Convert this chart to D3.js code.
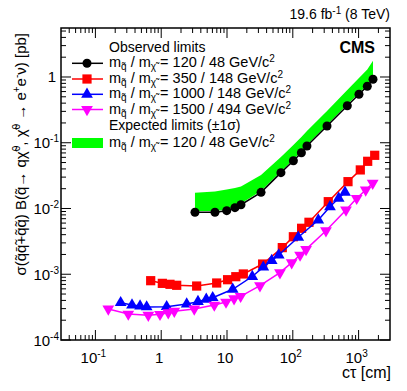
<!DOCTYPE html>
<meta charset="utf-8">
<style>
body { margin: 0; background: #fff; }
text { font-family: "Liberation Sans", Arial, sans-serif; fill: #000; }
.line { fill: none; stroke-width: 1.5px; }
</style>
<body>
<script src="https://d3js.org/d3.v7.min.js"></script>
<script>

// ---- data ----
var blackX = [3.26, 6.56, 9.9, 13.2, 16.3, 32.9, 66, 102, 135, 164, 331, 673, 1013, 1355, 1655];
var blackY = [0.00875, 0.00875, 0.00927, 0.0103, 0.0114, 0.0176, 0.0351, 0.0533, 0.0706, 0.0893, 0.180, 0.366, 0.546, 0.723, 0.922];

var expLow = [0.00916, 0.00916, 0.00966, 0.0107, 0.0119, 0.0185, 0.0366, 0.0556, 0.0736, 0.0925, 0.186, 0.382, 0.571, 0.755, 0.966];
var expHigh = [0.0174, 0.0182, 0.0195, 0.0205, 0.0216, 0.0323, 0.0607, 0.0925, 0.122, 0.151, 0.304, 0.634, 0.966, 1.30, 1.77];

var redX = [0.692, 1.04, 1.36, 1.72, 3.46, 6.97, 10.2, 13.6, 17.7, 34.8, 69.2, 102, 136, 176, 346, 690, 1061, 1374, 1757];
var redY = [7.98e-4, 7.27e-4, 7.03e-4, 6.79e-4, 6.62e-4, 7.36e-4, 8.26e-4, 9.18e-4, 1.01e-3, 1.43e-3, 2.54e-3, 3.72e-3, 5.0e-3, 6.17e-3, 0.0127, 0.0256, 0.0386, 0.0522, 0.0644];

var blueX = [0.242, 0.360, 0.477, 0.601, 1.21, 2.44, 3.62, 4.84, 6.06, 12.2, 24.2, 35.6, 47.8, 61.1, 121, 244, 367, 498, 621];
var blueY = [3.69e-4, 3.40e-4, 3.29e-4, 3.18e-4, 3.21e-4, 3.53e-4, 3.83e-4, 4.16e-4, 4.40e-4, 5.90e-4, 9.24e-4, 1.28e-3, 1.61e-3, 1.96e-3, 3.65e-3, 6.68e-3, 0.0106, 0.0143, 0.0176];

var magX = [0.157, 0.316, 0.637, 0.959, 1.28, 1.58, 3.18, 6.41, 9.66, 12.8, 16.1, 31.7, 63.8, 96.2, 129, 159, 319, 643, 935, 1282, 1637];
var magY = [2.96e-4, 2.48e-4, 2.38e-4, 2.46e-4, 2.60e-4, 2.74e-4, 2.96e-4, 3.40e-4, 3.78e-4, 4.25e-4, 4.62e-4, 6.70e-4, 1.06e-3, 1.50e-3, 1.96e-3, 2.39e-3, 4.59e-3, 9.48e-3, 0.0143, 0.0191, 0.0242];

var xTicks = [0.1, 1, 10, 100, 1000];
var xTickLabels = [["10", "-1"], ["1", ""], ["10", ""], ["10", "2"], ["10", "3"]];
var yTicks = [1e-4, 1e-3, 1e-2, 1e-1, 1];
var yTickLabels = [["10", "-4"], ["10", "-3"], ["10", "-2"], ["10", "-1"], ["1", ""]];

var legendMasses = ["120 / 48", "350 / 148", "1000 / 148", "1500 / 494"];

// ---- frame ----
var W = 407, H = 391;
var fL = 61, fR = 390, fT = 28, fB = 340;

var x = d3.scaleLog().domain([0.03, 3000]).range([fL, fR]);
var y = d3.scaleLog().domain([1e-4, 5.56]).range([fB, fT]);

var svg = d3.select("body").append("svg")
    .attr("width", W)
    .attr("height", H);

// helper to zip two arrays into points
function pts(xs, ys) {
  return xs.map(function(v, i) { return {x: v, y: ys[i]}; });
}

// expected band
var band = blackX.map(function(v, i) { return {x: v, lo: expLow[i], hi: expHigh[i]}; });
svg.append("path")
    .datum(band)
    .attr("fill", "#00ff00")
    .attr("d", d3.area()
        .x(function(d) { return x(d.x); })
        .y0(function(d) { return y(d.lo); })
        .y1(function(d) { return y(d.hi); }));

var series = [
  {xs: redX, ys: redY, color: "#ff0000", sym: d3.symbolSquare, size: 85, rot: 0},
  {xs: blueX, ys: blueY, color: "#0000ff", sym: d3.symbolTriangle, size: 60, rot: 0},
  {xs: magX, ys: magY, color: "#ff00ff", sym: d3.symbolTriangle, size: 60, rot: 180},
  {xs: blackX, ys: blackY, color: "#000000", sym: d3.symbolCircle, size: 64, rot: 0}
];

var line = d3.line()
    .x(function(d) { return x(d.x); })
    .y(function(d) { return y(d.y); });

series.forEach(function(s) {
  var data = pts(s.xs, s.ys);
  svg.append("path")
      .datum(data)
      .attr("class", "line")
      .attr("stroke", s.color)
      .attr("d", line);
  svg.selectAll(null)
      .data(data)
    .enter().append("path")
      .attr("fill", s.color)
      .attr("transform", function(d) {
        return "translate(" + x(d.x) + "," + y(d.y) + ") rotate(" + s.rot + ")";
      })
      .attr("d", d3.symbol().type(s.sym).size(s.size));
});

// ---- axes (ROOT style, ticks inside on all sides) ----
var minorX = [], minorY = [];
for (var e = -2; e <= 3; e++) {
  for (var m = 2; m <= 9; m++) {
    var v = m * Math.pow(10, e);
    if (v > 0.03 && v < 3000) minorX.push(v);
  }
}
for (var e = -4; e <= 0; e++) {
  for (var m = 2; m <= 9; m++) {
    var v = m * Math.pow(10, e);
    if (v < 5.56) minorY.push(v);
  }
}

var ax = svg.append("g").attr("stroke", "#000").attr("stroke-width", 1);
function tickX(v, len) {
  ax.append("line").attr("x1", x(v)).attr("x2", x(v)).attr("y1", fB).attr("y2", fB - len);
  ax.append("line").attr("x1", x(v)).attr("x2", x(v)).attr("y1", fT).attr("y2", fT + len);
}
function tickY(v, len) {
  ax.append("line").attr("y1", y(v)).attr("y2", y(v)).attr("x1", fL).attr("x2", fL + len);
  ax.append("line").attr("y1", y(v)).attr("y2", y(v)).attr("x1", fR).attr("x2", fR - len);
}
xTicks.forEach(function(v) { tickX(v, 10); });
minorX.forEach(function(v) { tickX(v, 5); });
yTicks.forEach(function(v) { tickY(v, 10); });
minorY.forEach(function(v) { tickY(v, 5); });

svg.append("rect")
    .attr("x", fL).attr("y", fT)
    .attr("width", fR - fL).attr("height", fB - fT)
    .attr("fill", "none").attr("stroke", "#000").attr("stroke-width", 1.5);

// tick labels
function numLabel(g, base, sup) {
  g.append("tspan").text(base);
  if (sup) g.append("tspan").attr("dy", -6).style("font-size", "10px").text(sup);
}
xTicks.forEach(function(v, i) {
  var t = svg.append("text")
      .attr("x", x(v) - 2).attr("y", 363)
      .attr("text-anchor", "middle")
      .style("font-size", "15px");
  numLabel(t, xTickLabels[i][0], xTickLabels[i][1]);
});
yTicks.forEach(function(v, i) {
  var t = svg.append("text")
      .attr("x", v == 1 ? 56 : 59).attr("y", y(v) + 5.5)
      .attr("text-anchor", "end")
      .style("font-size", "15px");
  numLabel(t, yTickLabels[i][0], yTickLabels[i][1]);
});

// axis titles
svg.append("text")
    .attr("x", 391).attr("y", 378)
    .attr("text-anchor", "end")
    .style("font-size", "16px")
    .text("c\u03c4 [cm]");

var yt = svg.append("text")
    .attr("transform", "translate(26,33) rotate(-90)")
    .attr("text-anchor", "end")
    .style("font-size", "15px");
yt.append("tspan").text("\u03c3(q\u0303q\u0304\u0303+q\u0303q\u0303) B(q\u0303\u2192 q\u03c7\u0303");
yt.append("tspan").attr("dy", -6).style("font-size", "10px").text("0");
yt.append("tspan").attr("dy", 6).text(", \u03c7\u0303");
yt.append("tspan").attr("dy", -6).style("font-size", "10px").text("0");
yt.append("tspan").attr("dy", 6).text(" \u2192 e");
yt.append("tspan").attr("dy", -6).style("font-size", "10px").text("+");
yt.append("tspan").attr("dy", 6).text("e");
yt.append("tspan").attr("dy", -6).style("font-size", "10px").text("-");
yt.append("tspan").attr("dy", 6).text("\u03bd) [pb]");

// top-right lumi and CMS
var lumi = svg.append("text")
    .attr("x", 390).attr("y", 19)
    .attr("text-anchor", "end")
    .style("font-size", "14px");
lumi.append("tspan").text("19.6 fb");
lumi.append("tspan").attr("dy", -5).style("font-size", "10px").text("-1");
lumi.append("tspan").attr("dy", 5).text(" (8 TeV)");

svg.append("text")
    .attr("x", 375).attr("y", 53)
    .attr("text-anchor", "end")
    .style("font-size", "16px")
    .style("font-weight", "bold")
    .text("CMS");

// ---- legend ----
var lgX = 109;
function massLabel(t, masses) {
  t.append("tspan").text("m");
  t.append("tspan").attr("dy", 3).style("font-size", "10px").text("q\u0303");
  t.append("tspan").attr("dy", -3).text(" / m");
  t.append("tspan").attr("dy", 3).style("font-size", "10px").text("\u03c7\u0303");
  t.append("tspan").attr("dy", -3).text(" = " + masses + " GeV/c");
  t.append("tspan").attr("dy", -5).style("font-size", "10px").text("2");
}

svg.append("text").attr("x", lgX).attr("y", 52).style("font-size", "14px").text("Observed limits");

var rowY = [63.3, 79, 94.3, 109.5];
var order = [3, 0, 1, 2];
rowY.forEach(function(ry, i) {
  var s = series[order[i]];
  svg.append("line")
      .attr("x1", 72).attr("x2", 103).attr("y1", ry).attr("y2", ry)
      .attr("stroke", s.color).attr("stroke-width", 1.5);
  svg.append("path")
      .attr("fill", s.color)
      .attr("transform", "translate(87," + ry + ") rotate(" + s.rot + ")")
      .attr("d", d3.symbol().type(s.sym).size(s.size));
  var t = svg.append("text").attr("x", lgX).attr("y", ry + 4).style("font-size", "14.5px");
  massLabel(t, legendMasses[i]);
});

svg.append("text").attr("x", lgX).attr("y", 130).style("font-size", "14px")
    .text("Expected limits (\u00b11\u03c3)");

svg.append("rect")
    .attr("x", 72).attr("y", 138).attr("width", 31).attr("height", 10)
    .attr("fill", "#00ff00");
var gt = svg.append("text").attr("x", lgX).attr("y", 147).style("font-size", "14.5px");
massLabel(gt, legendMasses[0]);

</script>
</body>
